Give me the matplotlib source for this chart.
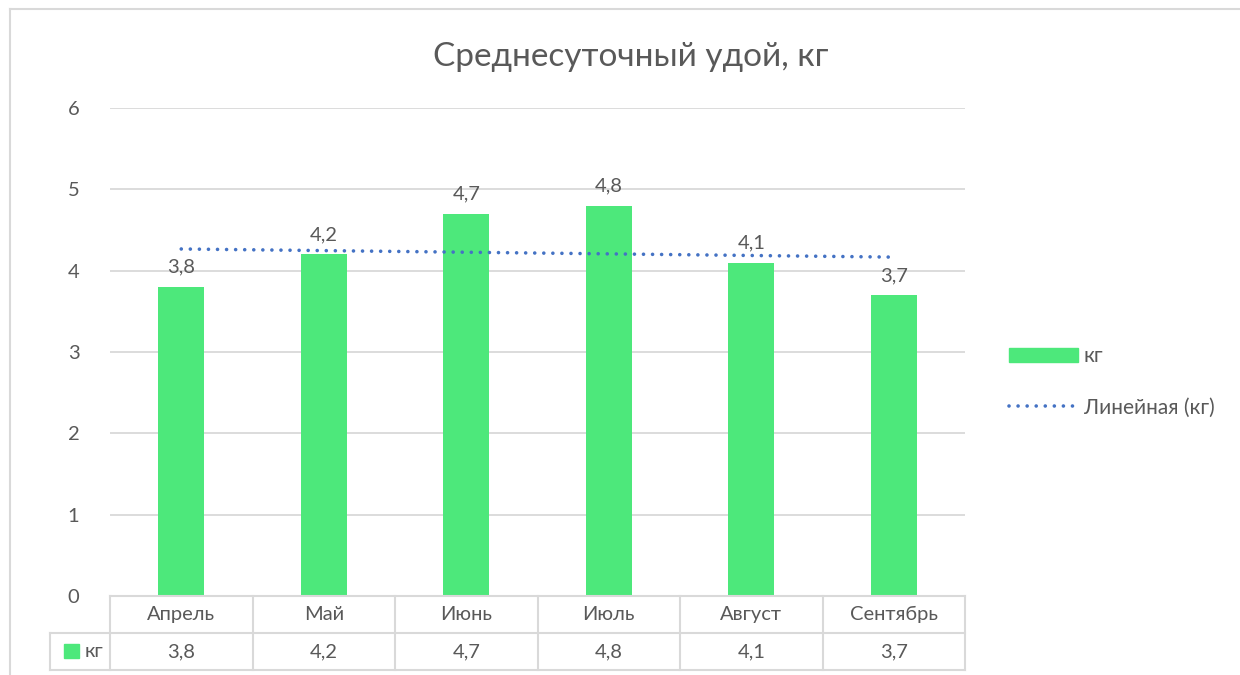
import numpy as np
import matplotlib.pyplot as plt
from matplotlib.patches import Patch
from matplotlib.lines import Line2D

plt.rcParams['font.family'] = ['Lato', 'DejaVu Sans']

months = ['Апрель', 'Май', 'Июнь', 'Июль', 'Август', 'Сентябрь']
milk_kg = [3.8, 4.2, 4.7, 4.8, 4.1, 3.7]
series_name = 'кг'
trend_name = 'Линейная (кг)'
title = 'Среднесуточный удой, кг'

BAR = '#4DE87B'
TREND = '#4472C4'
TXT = '#595959'
GRID = '#D9D9D9'
FS = 14.5
DOTS = (0, (0.01, 2.5))

def comma(v):
    return f'{v:.1f}'.replace('.', ',')

W, H = 1240, 675
fig = plt.figure(figsize=(W / 100, H / 100), dpi=100)

def box(x0, y0, x1, y1):
    # pixel box (top-left origin) -> figure axes rect
    return [x0 / W, 1 - y1 / H, (x1 - x0) / W, (y1 - y0) / H]

ax = fig.add_axes(box(110, 108, 965, 596))
x = np.arange(len(months))
ax.bar(x, milk_kg, width=0.32, color=BAR, zorder=3)
for xi, v in zip(x, milk_kg):
    ax.annotate(comma(v), (xi, v), xytext=(0, 8), textcoords='offset points',
                ha='center', va='bottom', fontsize=FS, color=TXT)

# linear trendline
k, b = np.polyfit(x + 1, milk_kg, 1)
ax.plot(x, k * (x + 1) + b, color=TREND, lw=2.6, ls=DOTS,
        dash_capstyle='round', zorder=4)

ax.set_xlim(-0.5, len(months) - 0.5)
ax.set_ylim(0, 6)
ax.set_yticks(range(7))
ax.set_yticklabels([str(t) for t in range(7)], fontsize=FS, color=TXT)
ax.tick_params(axis='y', length=0, pad=22)
ax.set_xticks([])
ax.grid(axis='y', color=GRID, lw=1.3, zorder=0)
for s in ax.spines.values():
    s.set_visible(False)
fig.text(631 / W, 1 - 57 / H, title, ha='center', va='center', fontsize=24, color=TXT)

# data table below the plot
tab = fig.add_axes(box(110, 596, 965, 670))
tab.set_xlim(-0.5, len(months) - 0.5)
tab.set_ylim(0, 2)
tab.axis('off')
left = -0.5 - 60 / (855 / len(months))
lk = dict(color=GRID, lw=1.5, clip_on=False)
tab.plot([-0.5, 5.5], [2, 2], **lk)
tab.plot([left, 5.5], [1, 1], **lk)
tab.plot([left, 5.5], [0, 0], **lk)
tab.plot([left, left], [0, 1], **lk)
for i in range(len(months) + 1):
    tab.plot([i - 0.5, i - 0.5], [0, 2], **lk)
for xi, m, v in zip(x, months, milk_kg):
    tab.text(xi, 1.5, m, ha='center', va='center', fontsize=FS, color=TXT)
    tab.text(xi, 0.5, comma(v), ha='center', va='center', fontsize=FS, color=TXT)
tab.add_patch(plt.Rectangle((left + 0.1, 0.33), 0.1, 0.36, color=BAR, clip_on=False))
tab.text(left + 0.24, 0.5, series_name, ha='left', va='center', fontsize=FS, color=TXT)

# legend
handles = [Patch(color=BAR), Line2D([], [], color=TREND, lw=2.6, ls=DOTS,
                                    dash_capstyle='round')]
fig.legend(handles, [series_name, trend_name], loc='center left',
           bbox_to_anchor=(990 / W, 1 - 382 / H), frameon=False, fontsize=15,
           labelcolor=TXT, handlelength=3.3, handleheight=0.65, handletextpad=0.3,
           labelspacing=1.5)

# chart border
fig.add_artist(Line2D([10 / W, 10 / W], [0, 1 - 9 / H], color=GRID, lw=1.5))
fig.add_artist(Line2D([10 / W, 1], [1 - 9 / H, 1 - 9 / H], color=GRID, lw=1.5))

fig.savefig('out.png', dpi=100)
